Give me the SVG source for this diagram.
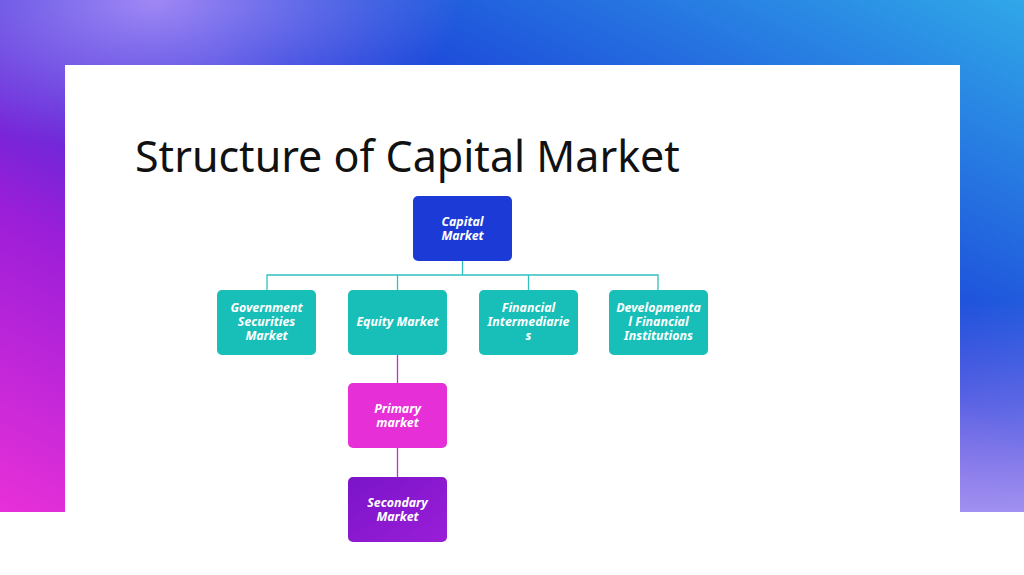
<svg xmlns="http://www.w3.org/2000/svg" width="1024" height="575" viewBox="0 0 1024 575">
<defs>
<linearGradient id="bg" x1="0" y1="1" x2="1" y2="0">
<stop offset="0" stop-color="#e830d8"/>
<stop offset="0.3" stop-color="#9a1ed8"/>
<stop offset="0.58" stop-color="#1a3ad8"/>
<stop offset="1" stop-color="#30a8e8"/>
</linearGradient>
<radialGradient id="tl" cx="0.15" cy="0" r="0.3">
<stop offset="0" stop-color="#b090f8" stop-opacity="0.9"/>
<stop offset="1" stop-color="#b090f8" stop-opacity="0"/>
</radialGradient>
<linearGradient id="rb" x1="0" y1="0" x2="0" y2="1">
<stop offset="0" stop-color="#a090f0" stop-opacity="0"/>
<stop offset="1" stop-color="#a090f0" stop-opacity="1"/>
</linearGradient>
<linearGradient id="purp" x1="0" y1="0" x2="1" y2="1">
<stop offset="0" stop-color="#7a14c8"/>
<stop offset="1" stop-color="#9a1ed8"/>
</linearGradient>
</defs>
<style>
.t{font-family:"Noto Sans","Open Sans",sans-serif;font-weight:bold;font-style:italic;font-size:12.4px;fill:#fff;text-anchor:middle}
.teal{fill:#17bfb8}
.c{fill:none;stroke-width:1.3}
</style>
<rect width="1024" height="575" fill="#fff"/>
<rect width="1024" height="512" fill="url(#bg)"/>
<rect width="1024" height="512" fill="url(#tl)"/>
<rect x="960" y="300" width="64" height="212" fill="url(#rb)"/>
<rect x="65" y="65" width="895" height="447" fill="#fff"/>
<rect x="0" y="512" width="1024" height="63" fill="#fff"/>
<text x="135" y="172" font-family="Noto Sans, Open Sans, sans-serif" font-size="43" fill="#111">Structure of Capital Market</text>
<g id="connectors">
<path class="c" stroke="#30c0c0" d="M462.5 261V275M267 290V275H658V290M397.5 275V290M528.5 275V290"/>
<path class="c" stroke="#c030c8" d="M397.5 355V383M397.5 448V477"/>
</g>
<g id="capital"><rect x="413" y="196" width="99" height="65" rx="5" fill="#1c3ad6"/><text class="t" x="462.5" y="226">Capital</text><text class="t" x="462.5" y="240">Market</text></g>
<g id="gov"><rect class="teal" x="217" y="290" width="99" height="65" rx="5"/><text class="t" x="266.5" y="312">Government</text><text class="t" x="266.5" y="326">Securities</text><text class="t" x="266.5" y="340">Market</text></g>
<g id="equity"><rect class="teal" x="348" y="290" width="99" height="65" rx="5"/><text class="t" x="397.5" y="326">Equity Market</text></g>
<g id="fin"><rect class="teal" x="479" y="290" width="99" height="65" rx="5"/><text class="t" x="528.5" y="312">Financial</text><text class="t" x="528.5" y="326">Intermediarie</text><text class="t" x="528.5" y="340">s</text></g>
<g id="dev"><rect class="teal" x="609" y="290" width="99" height="65" rx="5"/><text class="t" x="658.5" y="312">Developmenta</text><text class="t" x="658.5" y="326">l Financial</text><text class="t" x="658.5" y="340">Institutions</text></g>
<g id="primary"><rect x="348" y="383" width="99" height="65" rx="5" fill="#e62fd6"/><text class="t" x="397.5" y="413">Primary</text><text class="t" x="397.5" y="427">market</text></g>
<g id="secondary"><rect x="348" y="477" width="99" height="65" rx="5" fill="url(#purp)"/><text class="t" x="397.5" y="507">Secondary</text><text class="t" x="397.5" y="521">Market</text></g>
</svg>
